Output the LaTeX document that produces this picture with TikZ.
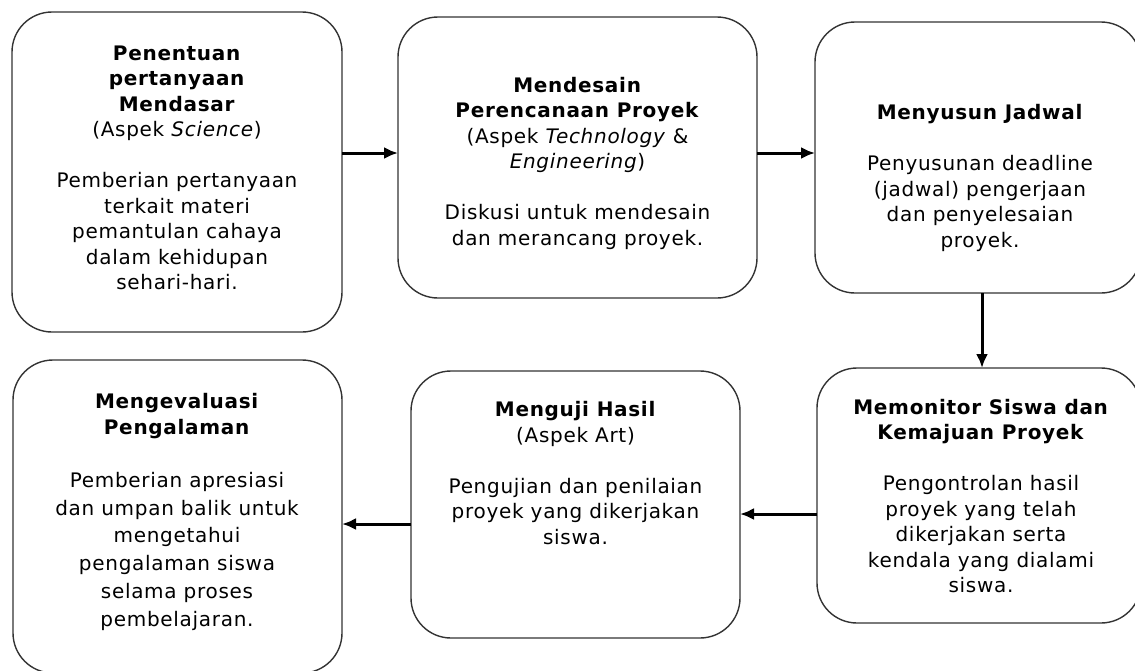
\documentclass[tikz,border=0pt]{standalone}
\usepackage{fontspec}
\setmainfont{DejaVu Sans}[LetterSpace=3.5,ItalicFont={DejaVu Sans Oblique},BoldFont={DejaVu Sans Bold},BoldItalicFont={DejaVu Sans Bold Oblique}]
\usetikzlibrary{arrows.meta}
\begin{document}
\begin{tikzpicture}[x=1pt,y=-1pt,
  box/.style={draw=black!80, line width=1.4pt, rounded corners=40pt, inner sep=0pt, outer sep=0pt, fill=white},
  txt/.style={align=center, inner sep=0pt, text=black, font=\fontsize{20}{25.5}\selectfont},
  arr/.style={-{Latex[length=14pt,width=12pt]}, line width=3pt, black}]
\useasboundingbox (0,0) rectangle (1135,670);
\clip (0,0) rectangle (1135,670);
\fill[white] (0,0) rectangle (1135,670);
% boxes
\node[box, minimum width=330pt, minimum height=320pt] (b1) at (177,172) {};
\node[box, minimum width=359pt, minimum height=281pt] (b2) at (577.5,157.5) {};
\node[box, minimum width=326pt, minimum height=271pt] (b3) at (978,157.5) {};
\node[box, minimum width=324pt, minimum height=255pt] (b4) at (979,495.5) {};
\node[box, minimum width=329pt, minimum height=267pt] (b5) at (575.5,504.5) {};
\node[box, minimum width=329pt, minimum height=313pt] (b6) at (177.5,516.5) {};
% texts
\node[txt] (t1) at (177,168) {\textbf{Penentuan}\\ \textbf{pertanyaan}\\ \textbf{Mendasar}\\ (Aspek \textit{Science})\\[25.5pt] Pemberian pertanyaan\\ terkait materi\\ pemantulan cahaya\\ dalam kehidupan\\ sehari-hari.};
\node[txt] (t2) at (577.5,163) {\textbf{Mendesain}\\ \textbf{Perencanaan Proyek}\\ (Aspek \textit{Technology} \&\\ \textit{Engineering})\\[25.5pt] Diskusi untuk mendesain\\ dan merancang proyek.};
\node[txt] (t3) at (980,178) {\textbf{Menyusun Jadwal}\\[25.5pt] Penyusunan deadline\\ (jadwal) pengerjaan\\ dan penyelesaian\\ proyek.};
\node[txt] (t4) at (981,496) {\textbf{Memonitor Siswa dan}\\ \textbf{Kemajuan Proyek}\\[25.5pt] Pengontrolan hasil\\ proyek yang telah\\ dikerjakan serta\\ kendala yang dialami\\ siswa.};
\node[txt] (t5) at (575.5,473) {\textbf{Menguji Hasil}\\ (Aspek Art)\\[25.5pt] Pengujian dan penilaian\\ proyek yang dikerjakan\\ siswa.};
\node[txt] (t6) at (177,512) {\textbf{Mengevaluasi}\\ \textbf{Pengalaman}\\[27.5pt] Pemberian apresiasi\\[2.3pt] dan umpan balik untuk\\[2.3pt] mengetahui\\[2.3pt] pengalaman siswa\\[2.3pt] selama proses\\[2.3pt] pembelajaran.};
% connectors
\draw[arr] ([yshift=19pt]b1.east) -- ([yshift=19pt]b1.east -| b2.west);
\draw[arr] ([yshift=4.5pt]b2.east) -- ([yshift=4.5pt]b2.east -| b3.west);
\draw[arr] ([xshift=4pt]b3.south) -- ([xshift=4pt]b3.south |- b4.north);
\draw[arr] ([yshift=-18.5pt]b4.west) -- ([yshift=-18.5pt]b4.west -| b5.east);
\draw[arr] ([yshift=-19.5pt]b5.west) -- ([yshift=-19.5pt]b5.west -| b6.east);
\end{tikzpicture}
\end{document}
